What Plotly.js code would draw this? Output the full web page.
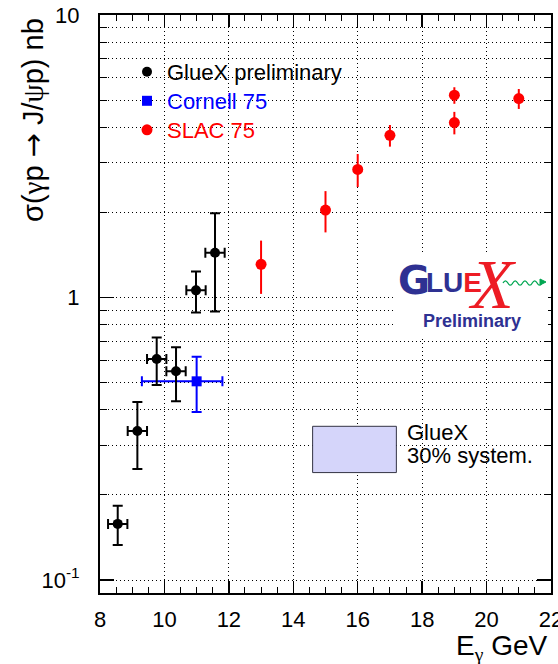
<!DOCTYPE html>
<html>
<head>
<meta charset="utf-8">
<script src="https://cdn.plot.ly/plotly-3.0.1.min.js"></script>
<style>
  html, body { margin: 0; padding: 0; background: #fff; }
  #chart { width: 558px; height: 664px; }
</style>
</head>
<body>
<div id="chart"></div>
<script>
// GlueX preliminary J/psi photoproduction cross section
const E_GLUEX   = [8.55, 9.16, 9.76, 10.36, 10.98, 11.57];
const SIG_GLUEX = [0.158, 0.337, 0.606, 0.548, 1.06, 1.44];
const ERR_GLUEX = [0.025, 0.090, 0.116, 0.119, 0.175, 0.547];
const DE_GLUEX  = [0.3, 0.3, 0.3, 0.3, 0.3, 0.3];

// Cornell 1975
const E_CORNELL      = [11.0];
const SIG_CORNELL    = [0.505];
const ERR_CORNELL    = [0.112];
const DE_CORNELL_UP  = [0.8];
const DE_CORNELL_DN  = [1.7];

// SLAC 1975
const E_SLAC   = [13, 15, 16, 17, 19, 19, 21];
const SIG_SLAC = [1.31, 2.04, 2.84, 3.75, 4.16, 5.20, 5.06];
const ERR_SLAC = [0.28, 0.34, 0.38, 0.33, 0.38, 0.35, 0.41];

// axes
const X_TICKS = [8, 10, 12, 14, 16, 18, 20, 22];
const Y_TICKS = [0.1, 1, 10];
const Y_TICK_TEXT = ['10<sup>-1</sup>', '1', '10'];
const Y_MINOR = [0.2, 0.3, 0.4, 0.5, 0.6, 0.7, 0.8, 0.9, 2, 3, 4, 5, 6, 7, 8, 9];

// systematic band drawn as a box
const SYST_BOX = { x0: 14.6, x1: 17.2, y0: 0.24, y1: 0.35 };

const FONT = 'Liberation Sans, Arial, Helvetica, sans-serif';
const GREEK = 'Liberation Serif, Times New Roman, serif';
const LOGO_BLUE = '#2e3192';
const LOGO_RED = '#ed1c24';
const LOGO_GREEN = '#00a651';

// plot-area geometry helpers (pixel -> paper)
const L = 100, R = 551, T = 15, B = 593;
const px = X => (X - L) / (R - L);
const py = Y => (B - Y) / (B - T);

const greek = c => `<span style="font-family:${GREEK}">${c}</span>`;

const traces = [
  {
    type: 'scatter', mode: 'markers', name: '<span style="color:#0000ff">Cornell 75</span>',
    x: E_CORNELL, y: SIG_CORNELL, legend: 'legend2',
    marker: { symbol: 'square', size: 10, color: '#0000ff' },
    error_y: { type: 'data', array: ERR_CORNELL, color: '#0000ff', thickness: 2, width: 5 },
    error_x: { type: 'data', array: DE_CORNELL_UP, arrayminus: DE_CORNELL_DN, symmetric: false,
               color: '#0000ff', thickness: 2, width: 5 },
    hoverinfo: 'skip'
  },
  {
    type: 'scatter', mode: 'markers', name: '<span style="color:#ff0000">SLAC 75</span>',
    x: E_SLAC, y: SIG_SLAC, legend: 'legend3',
    marker: { symbol: 'circle', size: 11, color: '#ff0000' },
    error_y: { type: 'data', array: ERR_SLAC, color: '#ff0000', thickness: 2, width: 0 },
    hoverinfo: 'skip'
  },
  {
    type: 'scatter', mode: 'markers', name: 'GlueX preliminary',
    x: E_GLUEX, y: SIG_GLUEX, legend: 'legend',
    marker: { symbol: 'circle', size: 10, color: '#000000' },
    error_y: { type: 'data', array: ERR_GLUEX, color: '#000000', thickness: 2, width: 5 },
    error_x: { type: 'data', array: DE_GLUEX, color: '#000000', thickness: 2, width: 5 },
    hoverinfo: 'skip'
  }
];

// small green wave next to the logo X
function wavePath(x0, x1, yc, amp, n) {
  const step = (x1 - x0) / n;
  let d = `M${px(x0)},${py(yc)}`;
  for (let i = 0; i < n; i++) {
    const xa = x0 + i * step, xb = xa + step;
    const cy = yc + (i % 2 === 0 ? -amp : amp) * 2;
    d += ` Q${px((xa + xb) / 2)},${py(cy)} ${px(xb)},${py(yc)}`;
  }
  return d;
}

const gridDash = '1px,3px';
const legendBase = (top) => ({
  x: px(127), xanchor: 'left', y: py(top), yanchor: 'top',
  font: { family: FONT, size: 22, color: '#000000' },
  bgcolor: 'rgba(0,0,0,0)', borderwidth: 0,
  itemclick: false, itemdoubleclick: false
});

const layout = {
  width: 558, height: 664,
  margin: { l: L, r: 558 - R, t: T, b: 664 - B, pad: 0 },
  paper_bgcolor: '#ffffff', plot_bgcolor: '#ffffff',
  font: { family: FONT, color: '#000000' },
  showlegend: true,
  legend: legendBase(51),
  legend2: legendBase(80),
  legend3: legendBase(109),
  xaxis: {
    range: [8, 22], tickmode: 'array', tickvals: X_TICKS,
    ticks: 'inside', ticklen: 12, tickwidth: 1.5, tickcolor: '#000',
    showline: true, linewidth: 2, linecolor: '#000', mirror: 'allticks',
    showgrid: true, gridcolor: '#000', gridwidth: 1, griddash: gridDash,
    zeroline: false, tickfont: { family: FONT, size: 22, color: '#000' },
    ticklabelstandoff: 6, ticklabeloverflow: 'allow',
    minor: { dtick: 0.5, tick0: 8, ticks: 'inside', ticklen: 6, tickwidth: 1, tickcolor: '#000', showgrid: false }
  },
  yaxis: {
    type: 'log', range: [-1.046, 1], tickmode: 'array', tickvals: Y_TICKS, ticktext: Y_TICK_TEXT,
    ticks: 'inside', ticklen: 14, tickwidth: 1.5, tickcolor: '#000',
    showline: true, linewidth: 2, linecolor: '#000', mirror: 'allticks',
    showgrid: true, gridcolor: '#000', gridwidth: 1, griddash: gridDash,
    zeroline: false, tickfont: { family: FONT, size: 22, color: '#000' },
    ticklabelstandoff: 14, ticklabeloverflow: 'allow',
    minor: { tickmode: 'array', tickvals: Y_MINOR, ticks: 'inside', ticklen: 7, tickwidth: 1, tickcolor: '#000',
             showgrid: true, gridcolor: '#000', gridwidth: 1, griddash: gridDash }
  },
  shapes: [
    // systematic uncertainty box
    { type: 'rect', xref: 'x', yref: 'y', x0: SYST_BOX.x0, x1: SYST_BOX.x1, y0: SYST_BOX.y0, y1: SYST_BOX.y1,
      fillcolor: '#d5d5fa', line: { color: '#333344', width: 1 }, layer: 'above' },
    // logo background
    { type: 'rect', xref: 'paper', yref: 'paper', x0: px(395), x1: px(548), y0: py(336), y1: py(253),
      fillcolor: '#ffffff', line: { width: 0 }, layer: 'above' },
    // logo wave
    { type: 'path', xref: 'paper', yref: 'paper', path: wavePath(503, 542, 283, 2.2, 8),
      line: { color: LOGO_GREEN, width: 1.3 }, layer: 'above' },
    { type: 'path', xref: 'paper', yref: 'paper',
      path: `M${px(540)},${py(279)} L${px(546)},${py(282)} L${px(540)},${py(285)} Z`,
      fillcolor: LOGO_GREEN, line: { color: LOGO_GREEN, width: 1 }, layer: 'above' }
  ],
  annotations: [
    // axis titles
    { xref: 'paper', yref: 'paper', x: px(33), y: py(16), xanchor: 'center', yanchor: 'top',
      text: 'σ(' + greek('γ') + 'p <span style="font-family:DejaVu Sans">→</span> J/' + greek('ψ') + 'p) nb',
      textangle: -90, showarrow: false,
      font: { family: FONT, size: 29, color: '#000' } },
    { xref: 'paper', yref: 'paper', x: px(549), y: py(647), xanchor: 'right', yanchor: 'middle',
      text: 'E<sub>' + greek('γ') + '</sub> GeV', showarrow: false,
      font: { family: FONT, size: 28, color: '#000' } },
    // systematic box label
    { xref: 'paper', yref: 'paper', x: px(405), y: py(432), xanchor: 'left', yanchor: 'middle',
      text: 'GlueX', showarrow: false, font: { family: FONT, size: 22, color: '#000' } },
    { xref: 'paper', yref: 'paper', x: px(405), y: py(455), xanchor: 'left', yanchor: 'middle',
      text: '30% system.', showarrow: false, font: { family: FONT, size: 22, color: '#000' } },
    // logo
    { xref: 'paper', yref: 'paper', x: px(414), y: py(280), xanchor: 'center', yanchor: 'middle',
      text: '<b>G</b>', showarrow: false, font: { family: 'DejaVu Sans, ' + FONT, size: 39, color: LOGO_BLUE } },
    { xref: 'paper', yref: 'paper', x: px(454), y: py(282), xanchor: 'center', yanchor: 'middle',
      text: '<b>LU<span style="color:' + LOGO_RED + '">E</span></b>', showarrow: false,
      font: { family: 'Liberation Sans Narrow, ' + FONT, size: 28, color: LOGO_BLUE } },
    { xref: 'paper', yref: 'paper', x: px(492), y: py(284), xanchor: 'center', yanchor: 'middle',
      text: '<i>X</i>', showarrow: false,
      font: { family: GREEK, size: 70, color: LOGO_RED } },
    { xref: 'paper', yref: 'paper', x: px(472), y: py(321), xanchor: 'center', yanchor: 'middle',
      text: '<b>Preliminary</b>', showarrow: false, font: { family: FONT, size: 18, color: LOGO_BLUE } }
  ]
};

Plotly.newPlot('chart', traces, layout, { staticPlot: true, displayModeBar: false });
</script>
</body>
</html>
